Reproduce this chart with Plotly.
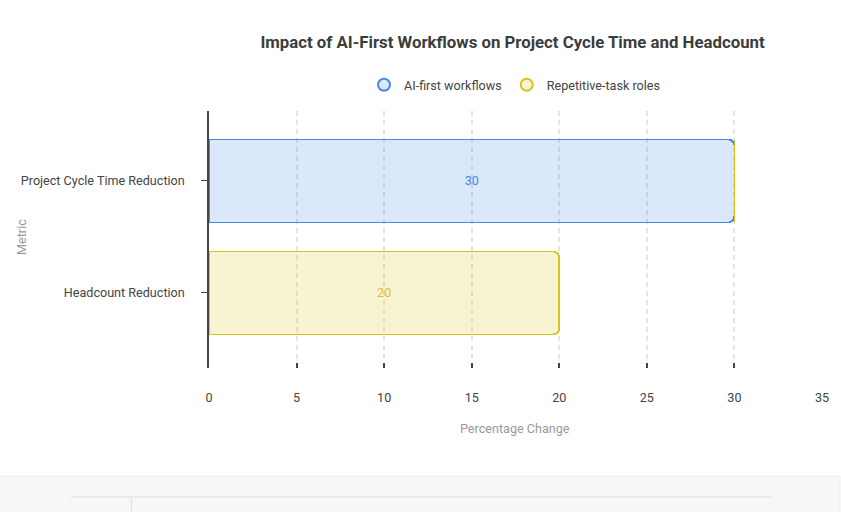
import plotly.graph_objects as go

# data
metrics = ["Project Cycle Time Reduction", "Headcount Reduction"]
ai_first = [30, 0]
repetitive = [0, 20]
series_names = ["AI-first workflows", "Repetitive-task roles"]
x_ticks = [0, 5, 10, 15, 20, 25, 30, 35]

BLUE = "#4a86e8"
YELLOW = "#dcc319"
FONT = "Roboto, Arial, sans-serif"
FS = 12.6  # base font size

# page geometry (px)
W, H = 841, 512
L, R, T, B = 209, 16, 111, 144
plot_h = H - T - B
plot_w = W - L - R


def py(y):
    # pixel y -> paper y
    return (H - B - y) / plot_h


def px(x):
    return (x - L) / plot_w


fig = go.Figure()

for vals, name, col, fill in [
    (ai_first, series_names[0], BLUE, "rgba(74,134,232,0.2)"),
    (repetitive, series_names[1], YELLOW, "rgba(220,195,25,0.2)"),
]:
    fig.add_trace(go.Bar(
        x=vals, y=metrics, orientation="h", name=name,
        marker=dict(color=fill, line=dict(color=col, width=1.8)),
        text=[str(v) if v else "" for v in vals],
        textposition="inside", insidetextanchor="middle",
        textfont=dict(color=col, size=FS, family=FONT),
        showlegend=False, hoverinfo="x+y",
    ))
    # circle legend markers
    fig.add_trace(go.Scatter(
        x=[None], y=[None], mode="markers", name=name,
        marker=dict(symbol="circle", size=13, color=fill, line=dict(color=col, width=1.8)),
    ))

fig.update_layout(
    width=W, height=H,
    margin=dict(l=L, r=R, t=T, b=B),
    barmode="stack", bargap=0.26, barcornerradius=6,
    plot_bgcolor="white", paper_bgcolor="white",
    font=dict(family=FONT, size=FS, color="#444"),
    title=dict(text="<b>Impact of AI-First Workflows on Project Cycle Time and Headcount</b>",
               x=px(514), xref="paper", xanchor="center", y=1 - 42 / H, yanchor="middle",
               font=dict(size=16.8, color="#3c3c3c", family=FONT)),
    legend=dict(orientation="h", x=px(516), xanchor="center", y=py(85), yanchor="middle",
                traceorder="normal", font=dict(size=FS, color="#444"), itemsizing="constant"),
    xaxis=dict(range=[0, 35], tickvals=x_ticks, showgrid=True, gridcolor="#e4e4e4",
               griddash="5px,4px", gridwidth=1.5, zeroline=False, showline=False,
               ticks="inside", ticklen=5, tickwidth=1.5, tickcolor="#444",
               ticklabelstandoff=20, tickfont=dict(size=FS, color="#444")),
    yaxis=dict(range=[1.67, -0.625], showline=True, linecolor="#444", linewidth=1.5,
               ticks="outside", ticklen=6, tickcolor="#444", showgrid=False, zeroline=False,
               ticklabelstandoff=14, tickfont=dict(size=FS, color="#444")),
    annotations=[
        dict(text="Percentage Change", x=px(516), y=py(428), xref="paper", yref="paper",
             xanchor="center", yanchor="middle",
             showarrow=False, font=dict(size=FS, color="#999")),
        dict(text="Metric", x=px(20), y=py(237), xref="paper", yref="paper",
             xanchor="center", yanchor="middle",
             textangle=-90, showarrow=False, font=dict(size=FS, color="#999")),
    ],
    shapes=[
        dict(type="rect", xref="paper", yref="paper", x0=px(-2), x1=px(W + 2), y0=py(476), y1=py(H + 2),
             fillcolor="#f7f7f7", line=dict(color="#ececec", width=1), layer="below"),
        dict(type="line", xref="paper", yref="paper", x0=px(70), x1=px(775), y0=py(497), y1=py(497),
             line=dict(color="#e6e6e6", width=1.5)),
        dict(type="line", xref="paper", yref="paper", x0=px(131), x1=px(131), y0=py(497), y1=py(H),
             line=dict(color="#f0d6da", width=1)),
    ],
)

# drop the default body margin so the 841x512 figure sits at the window origin
fig.write_html("out.html", config={"displayModeBar": False},
               post_script="document.body.style.margin='0';document.body.style.overflow='hidden';")
